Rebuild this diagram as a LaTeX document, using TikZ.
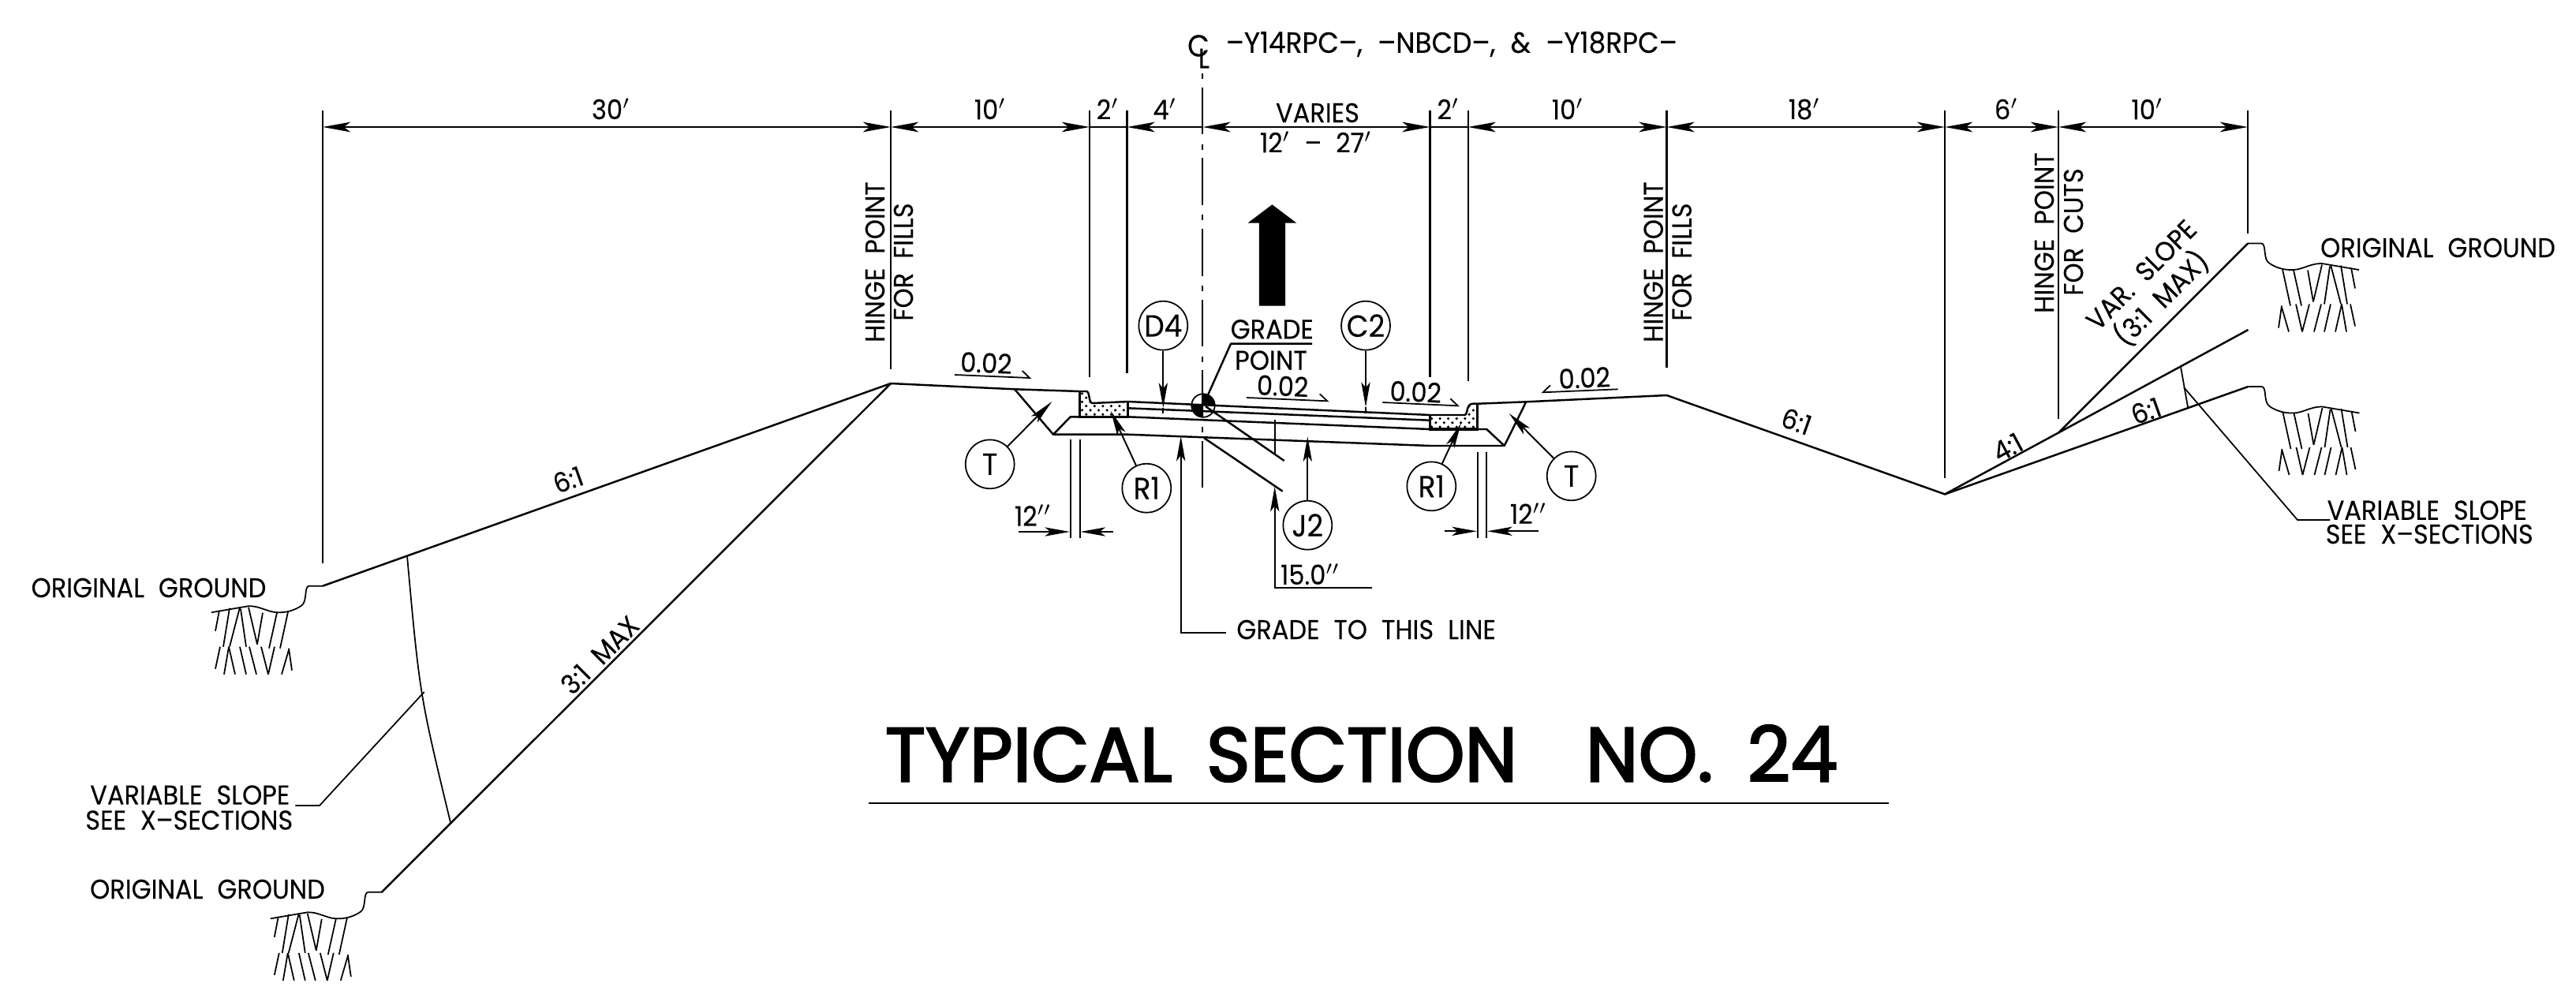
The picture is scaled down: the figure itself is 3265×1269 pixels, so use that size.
\documentclass[tikz,border=0pt]{standalone}
\usepackage{fontspec}
\usetikzlibrary{arrows.meta,patterns}
\setmainfont[WordSpace=2.1, FakeStretch=0.93, FakeBold=0.2]{Poppins}
\newfontfamily\titlefont[WordSpace=1.7, FakeStretch=0.98, FakeBold=2.4]{Poppins}

\tikzset{
	dimtip/.tip={Stealth[length=10pt, width=3.6pt, inset=2.4pt]},
	leadtip/.tip={Stealth[length=9pt, width=3.2pt, inset=2pt]},
	dimline/.style={line width=0.7pt},
	extline/.style={line width=0.6pt},
	road/.style={line width=0.7pt, line join=round},
	thinline/.style={line width=0.5pt},
	leader/.style={line width=0.55pt, -{leadtip}},
	lab/.style={inner sep=0pt, font=\fontsize{9.8}{11}\selectfont},
	callout/.style={circle, draw, line width=0.5pt, minimum size=17.6pt, inner sep=0pt, fill=white, font=\fontsize{11}{11}\selectfont},
	pics/groundline/.style={code={
		\draw[thinline] (0,0) -- (17,0) .. controls (24,0) and (19,20) .. (27,25) .. controls (36,31) and (46,34) .. (58,33.5) .. controls (70,33) and (80,25) .. (94,25.5) -- (141,33.5);
		\draw[thinline] (44,33) -- (54,79) (58,34) -- (68,79) (76,34) -- (83,74) (94,27) -- (83,74) (105,27) -- (118,77) (104,29) -- (97,77) (118,28) -- (126,77) (131,31) -- (136,57);
		\draw[thinline] (39,107) -- (43,79) (43,81) -- (52,112) (61,77) -- (69,112) (78,77) -- (69,112) (93,77) -- (84,112) (105,77) -- (97,112) (119,77) -- (111,112) (119,77) -- (125,112) (130,77) -- (136,105);
	}}
}

\begin{document}
\begin{tikzpicture}[x=0.01cm, y=-0.01cm]
	\useasboundingbox (0,0) rectangle (3265,1269);

	% Stations along the dimension line
	\coordinate (d1) at (409,161);
	\coordinate (d2) at (1129,161);
	\coordinate (d3) at (1381,161);
	\coordinate (d4) at (1428.5,161);
	\coordinate (cl) at (1524.4,161);
	\coordinate (d5) at (1812.5,161);
	\coordinate (d6) at (1860.6,161);
	\coordinate (d7) at (2112.5,161);
	\coordinate (d8) at (2465,161);
	\coordinate (d9) at (2609,161);
	\coordinate (d10) at (2849,161);

	% Extension lines
	\draw[extline] (d1) ++(0,-21) -- (409,714);
	\draw[extline] (d2) ++(0,-21) -- (1129,468);
	\draw[extline] (d3) ++(0,-21) -- (1381,478);
	\draw[extline] (d4) ++(0,-21) -- (1428.5,473);
	\draw[extline] (d5) ++(0,-21) -- (1812.5,478);
	\draw[extline] (d6) ++(0,-21) -- (1860.6,483);
	\draw[extline] (d7) ++(0,-21) -- (2112.5,466);
	\draw[extline] (d8) ++(0,-21) -- (2465,606);
	\draw[extline] (d9) ++(0,-21) -- (2609,531);
	\draw[extline] (d10) ++(0,-21) -- (2849,296);
	\draw[extline, dash pattern=on 2pt off 3pt on 17pt off 3.5pt] (1524.4,93) -- (1524.4,618);

	% Dimension lines
	\draw[dimline, {dimtip}-{dimtip}] (d1) -- (d2);
	\draw[dimline, {dimtip}-{dimtip}] (d2) -- (d3);
	\draw[dimline] (d3) -- (d4);
	\draw[dimline, {dimtip}-] (d4) -- (cl);
	\draw[dimline, {dimtip}-{dimtip}] (cl) -- (d5);
	\draw[dimline] (d5) -- (d6);
	\draw[dimline, {dimtip}-{dimtip}] (d6) -- (d7);
	\draw[dimline, {dimtip}-{dimtip}] (d7) -- (d8);
	\draw[dimline, {dimtip}-{dimtip}] (d8) -- (d9);
	\draw[dimline, {dimtip}-{dimtip}] (d9) -- (d10);

	\node[lab] (w30) at (774.5,138) {30$'$};
	\node[lab] (w10a) at (1255,138) {10$'$};
	\node[lab] (w2a) at (1404,138) {2$'$};
	\node[lab] (w4) at (1476.5,138) {4$'$};
	\node[lab] (wvar) at (1670,143) {VARIES};
	\node[lab] (wrange) at (1668,180) {12$'$ -- 27$'$};
	\node[lab] (w2b) at (1835.6,138) {2$'$};
	\node[lab] (w10b) at (1987,138) {10$'$};
	\node[lab] (w18) at (2287,138) {18$'$};
	\node[lab] (w6) at (2543,138) {6$'$};
	\node[lab] (w10c) at (2721.6,138) {10$'$};

	% Centerline heading
	\node[lab, font=\fontsize{11}{11}\selectfont] (clc) at (1519,58) {C};
	\node[lab, font=\fontsize{10}{11}\selectfont] (cll) at (1526,74) {L};
	\node[lab, anchor=west, font=\fontsize{10.5}{11}\selectfont] (heading) at (1553,56) {--Y14RPC--, --NBCD--, \& --Y18RPC--};

	% Hinge point notes
	\node[lab, rotate=90] (hinge1) at (1109,332) {HINGE POINT};
	\node[lab, rotate=90] (fills1) at (1145,332) {FOR FILLS};
	\node[lab, rotate=90] (hinge2) at (2095.7,332) {HINGE POINT};
	\node[lab, rotate=90] (fills2) at (2131.7,332) {FOR FILLS};
	\node[lab, rotate=90] (hinge3) at (2591,295) {HINGE POINT};
	\node[lab, rotate=90] (cuts) at (2628,294) {FOR CUTS};

	% Fill and cut slopes
	\draw[road] (483.8,1130.8) -- (1129,486) -- (409,742.7);
	\draw[road] (1129,486) -- (1286,493.3) -- (1368.3,496);
	\draw[road] (1934.3,509.3) -- (2112.5,501) -- (2465,626.4) -- (2849.5,490);
	\draw[road] (2465,626.4) -- (2609,548.5) -- (2849,308.5);
	\draw[road] (2609,548.5) -- (2849.5,418);

	\pic at (2849,308.5) {groundline};
	\pic at (2849.5,490) {groundline};
	\pic[xscale=-1] at (409,742.7) {groundline};
	\pic[xscale=-1] at (483.8,1130.8) {groundline};

	\node[lab, rotate=19.6] (fill1) at (720,608) {6:1};
	\node[lab, rotate=45] (fill2) at (760,830) {3:1 MAX};
	\node[lab, rotate=-19.5] (fill3) at (2277,534) {6:1};
	\node[lab, rotate=28.3] (cut1) at (2544.5,567) {4:1};
	\node[lab, rotate=19.5] (cut2) at (2720,520.7) {6:1};
	\node[lab, rotate=45] (cut3) at (2714,348.5) {VAR. SLOPE};
	\node[lab, rotate=45] (cut4) at (2739,378) {(3:1 MAX)};

	% Variable slope notes
	\draw[thinline] (516,704.4) .. controls (531.9,880.6) .. (571,1042.5);
	\draw[thinline] (537.7,877) -- (405,1021) -- (374.4,1021);
	\draw[thinline] (2764,465) .. controls (2768,491) .. (2773.4,518);
	\draw[thinline] (2768,491) -- (2912,659) -- (2953,659);

	\node[lab, anchor=east] (var1) at (368,1007.6) {VARIABLE SLOPE};
	\node[lab, anchor=east] (see1) at (372,1039.5) {SEE X--SECTIONS};
	\node[lab, anchor=west] (var2) at (2949,646.7) {VARIABLE SLOPE};
	\node[lab, anchor=west] (see2) at (2947,677) {SEE X--SECTIONS};
	\node[lab] (og1) at (188.5,745) {ORIGINAL GROUND};
	\node[lab] (og2) at (263,1127) {ORIGINAL GROUND};
	\node[lab] (og3) at (3090,314) {ORIGINAL GROUND};

	% Pavement and subgrade
	\draw[road] (1429.3,509) -- (1812.7,526);
	\draw[road] (1429.3,517.3) -- (1812.7,532.7);
	\draw[road] (1429.3,528.3) -- (1812.7,544);
	\draw[road] (1286,493.3) -- (1335,550.7) -- (1356.7,528.3) -- (1368.3,528.3);
	\draw[road] (1335,550.7) -- (1430,550.7) -- (1812.7,565) -- (1906.7,565) -- (1884.3,544) -- (1872.7,544);
	\draw[road] (1906.7,565) -- (1934.3,509.3) -- (1872.7,511.7);

	% Curbs
	\fill[pattern=crosshatch dots] (1368.3,496) -- (1376.7,496) .. controls (1382,496) and (1379,511) .. (1385,511) -- (1429.3,509) -- (1429.3,528.3) -- (1368.3,528.3) -- cycle;
	\fill[pattern=crosshatch dots] (1812.7,526) -- (1856.7,526) .. controls (1861,524) and (1858,511.7) .. (1867,511.7) -- (1872.7,511.7) -- (1872.7,544) -- (1812.7,544) -- cycle;
	\draw[road] (1368.3,496) -- (1376.7,496) .. controls (1382,496) and (1379,511) .. (1385,511) -- (1429.3,509);
	\draw[road] (1812.7,526) -- (1856.7,526) .. controls (1861,524) and (1858,511.7) .. (1867,511.7) -- (1872.7,511.7);
	\draw[line width=0.9pt] (1368.3,496) -- (1368.3,528.3) -- (1429.3,528.3) -- (1429.3,509);
	\draw[line width=0.9pt] (1812.7,526) -- (1812.7,544) -- (1872.7,544) -- (1872.7,511.7);

	% Pipe and grade point
	\draw[road] (1528,515) -- (1627.7,584);
	\draw[road] (1526,555) -- (1625.7,622.7);
	\node[circle, draw, line width=0.5pt, inner sep=0pt, minimum size=8.4pt] (gradept) at (1525,514) {};
	\fill (gradept.center) -- ++(90:4.2pt) arc[start angle=90, end angle=0, radius=4.2pt] -- cycle;
	\fill (gradept.center) -- ++(270:4.2pt) arc[start angle=270, end angle=180, radius=4.2pt] -- cycle;
	\draw[road] (gradept) -- (1560,435.7) -- (1663,435.7);
	\node[lab] (gradeword) at (1612.3,417.3) {GRADE};
	\node[lab] (pointword) at (1611,456.7) {POINT};

	% Grade direction arrow
	\fill (1612.4,259.3) -- (1643.4,282.7) -- (1629,282.7) -- (1629,387.7) -- (1595.8,387.7) -- (1595.8,282.7) -- (1581.4,282.7) -- cycle;

	% Cross slopes
	\node[lab, rotate=-2.5] (s1) at (1250,460) {0.02};
	\draw[thinline] (1210,475) -- (1305,479) -- (1295.7,470);
	\node[lab, rotate=-2.5] (s2) at (1625.7,489.3) {0.02};
	\draw[thinline] (1580,504) -- (1682.3,508.3) -- (1672.7,499.3);
	\node[lab, rotate=-2.5] (s3) at (1794.3,496.7) {0.02};
	\draw[thinline] (1752.3,510) -- (1847.7,514.3) -- (1838.3,505.3);
	\node[lab, rotate=2.5] (s4) at (2008.3,479) {0.02};
	\draw[thinline] (2050.7,493.3) -- (1955.7,497.3) -- (1965,488.3);

	% Circled callouts
	\node[callout] (tleft) at (1254.7,588.3) {T};
	\node[callout] (rleft) at (1453.3,618.7) {R1};
	\node[callout] (dfour) at (1474.3,412.7) {D4};
	\node[callout] (ctwo) at (1731,412.7) {C2};
	\node[callout] (jtwo) at (1657.3,665.7) {J2};
	\node[callout] (rright) at (1814.3,616.3) {R1};
	\node[callout] (tright) at (1991.7,603.3) {T};

	\draw[leader] (tleft) -- (1333.3,509);
	\draw[leader] (rleft) -- (1408,521);
	\draw[leader] (dfour) -- (1474.3,517);
	\draw[thinline] (1474.3,517) -- (1474.3,524);
	\draw[leader] (ctwo) -- (1731,516);
	\draw[thinline] (1731,516) -- (1731,524);
	\draw[leader] (jtwo) -- (1657.3,553.3);
	\draw[leader] (rright) -- (1851.7,536.7);
	\draw[leader] (tright) -- (1912.7,524);

	% Pipe slope dimension
	\draw[extline] (1615.7,532.3) -- (1615.7,576.7);
	\draw[leader] (1739.3,745) -- (1615.7,745) -- (1615.7,616.7);
	\node[lab] (pipe) at (1660.7,727.7) {15.0$''$};

	% Grade line note
	\node[lab, anchor=west] (gradeline) at (1566.7,798) {GRADE TO THIS LINE};
	\draw[leader] (gradeline.west |- 0,802.3) ++(-13,0) -- (1496.7,802.3) -- (1496.7,552.7);

	% Ditch width dimensions
	\draw[thinline] (1356.7,556.7) -- (1356.7,681.7);
	\draw[thinline] (1368.7,556.7) -- (1368.7,681.7);
	\draw[leader] (1291.3,674) -- (1356,674);
	\draw[leader] (1410.7,674) -- (1369.3,674);
	\node[lab] (ditch1) at (1309.3,653.3) {12$''$};
	\draw[thinline] (1872.7,573.3) -- (1872.7,681.7);
	\draw[thinline] (1884.3,573.3) -- (1884.3,681.7);
	\draw[leader] (1830.7,673.3) -- (1872,673.3);
	\draw[leader] (1950,673.3) -- (1885,673.3);
	\node[lab] (ditch2) at (1937.3,650.7) {12$''$};

	% Title
	\node[inner sep=0pt, anchor=west, font=\fontsize{27.6}{30}\selectfont\titlefont] (title) at (1121,955) {TYPICAL SECTION \ NO. 24};
	\draw[line width=0.6pt] (1100.7,1018) -- (2394,1018);
\end{tikzpicture}
\end{document}
